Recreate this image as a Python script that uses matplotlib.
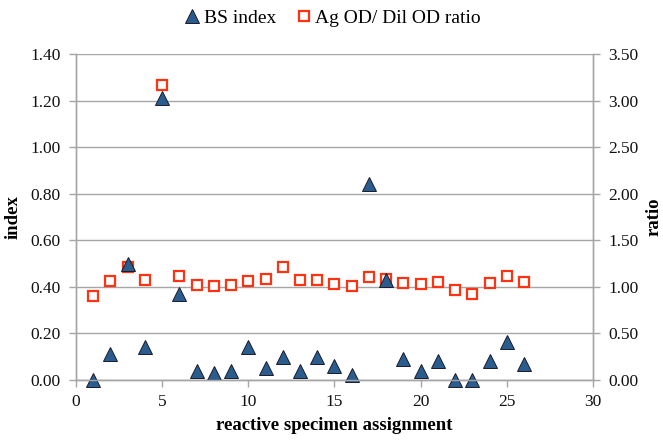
import matplotlib
matplotlib.use("Agg")
import matplotlib.pyplot as plt
from matplotlib.lines import Line2D

specimen = list(range(1, 27))
bs_index = [0.00, 0.11, 0.50, 0.14, 1.21, 0.37, 0.04, 0.03, 0.04, 0.14,
            0.05, 0.10, 0.04, 0.10, 0.06, 0.02, 0.84, 0.43, 0.09, 0.04,
            0.08, 0.00, 0.00, 0.08, 0.165, 0.07]
ratio = [0.90, 1.065, 1.215, 1.078, 3.17, 1.12, 1.018, 1.01, 1.018, 1.065,
         1.09, 1.215, 1.078, 1.078, 1.03, 1.01, 1.107, 1.09, 1.04, 1.035,
         1.054, 0.965, 0.92, 1.045, 1.118, 1.054]

left_ticks = [0.0, 0.2, 0.4, 0.6, 0.8, 1.0, 1.2, 1.4]
right_ticks = [0.0, 0.5, 1.0, 1.5, 2.0, 2.5, 3.0, 3.5]
x_ticks = [0, 5, 10, 15, 20, 25, 30]

plt.rcParams['font.family'] = ['Liberation Serif', 'DejaVu Serif']

blue = '#2A5C8E'
red = '#FF3311'
gray = '#A6A6A6'

fig = plt.figure(figsize=(6.63, 4.40), dpi=100)
ax = fig.add_axes([0.1146, 0.1364, 0.7798, 0.7406])
ax2 = ax.twinx()

ax2.plot(specimen, ratio, linestyle='none', marker='s', markersize=7.8,
         markerfacecolor='white', markeredgecolor=red, markeredgewidth=1.6,
         clip_on=False)
ax.plot(specimen, bs_index, linestyle='none', marker='^', markersize=10.5,
        markerfacecolor=blue, markeredgecolor='#1a1a2a', markeredgewidth=0.7,
        clip_on=False)

ax.set_zorder(ax2.get_zorder() + 1)
ax.patch.set_visible(False)

ax.set_xlim(0, 30)
ax.set_ylim(0, 1.4)
ax2.set_ylim(0, 3.5)
ax.set_xticks(x_ticks)
ax.set_yticks(left_ticks)
ax2.set_yticks(right_ticks)
ax.set_yticklabels([f"{v:.2f}" for v in left_ticks])
ax2.set_yticklabels([f"{v:.2f}" for v in right_ticks])

ax2.yaxis.grid(True, color=gray, linewidth=1.0)
ax2.set_axisbelow(True)

for a in (ax, ax2):
    for s in ('top',):
        a.spines[s].set_visible(False)
    for s in ('left', 'right', 'bottom'):
        a.spines[s].set_color(gray)
        a.spines[s].set_linewidth(1.0)
    a.tick_params(axis='both', color=gray, length=5, width=1.0,
                  labelsize=12.5, labelcolor='#111111')
ax.tick_params(axis='y', pad=6)
ax2.tick_params(axis='y', pad=6)
ax.tick_params(axis='x', pad=5)

ax.set_ylabel('index', fontsize=13.5, fontweight='bold', labelpad=6)
ax2.set_ylabel('ratio', fontsize=13.5, fontweight='bold', labelpad=5)
ax.set_xlabel('reactive specimen assignment', fontsize=13.5, fontweight='bold', labelpad=5)

handles = [
    Line2D([], [], linestyle='none', marker='^', markersize=10.5,
           markerfacecolor=blue, markeredgecolor='#1a1a2a', markeredgewidth=0.7),
    Line2D([], [], linestyle='none', marker='s', markersize=7.8,
           markerfacecolor='white', markeredgecolor=red, markeredgewidth=1.6),
]
fig.legend(handles, ['BS index', 'Ag OD/ Dil OD ratio'], loc='center',
           bbox_to_anchor=(0.50, 0.958), ncol=2, frameon=False, fontsize=14,
           handletextpad=0.1, columnspacing=0.93, handlelength=1.0)

fig.savefig('out.png', dpi=100)
